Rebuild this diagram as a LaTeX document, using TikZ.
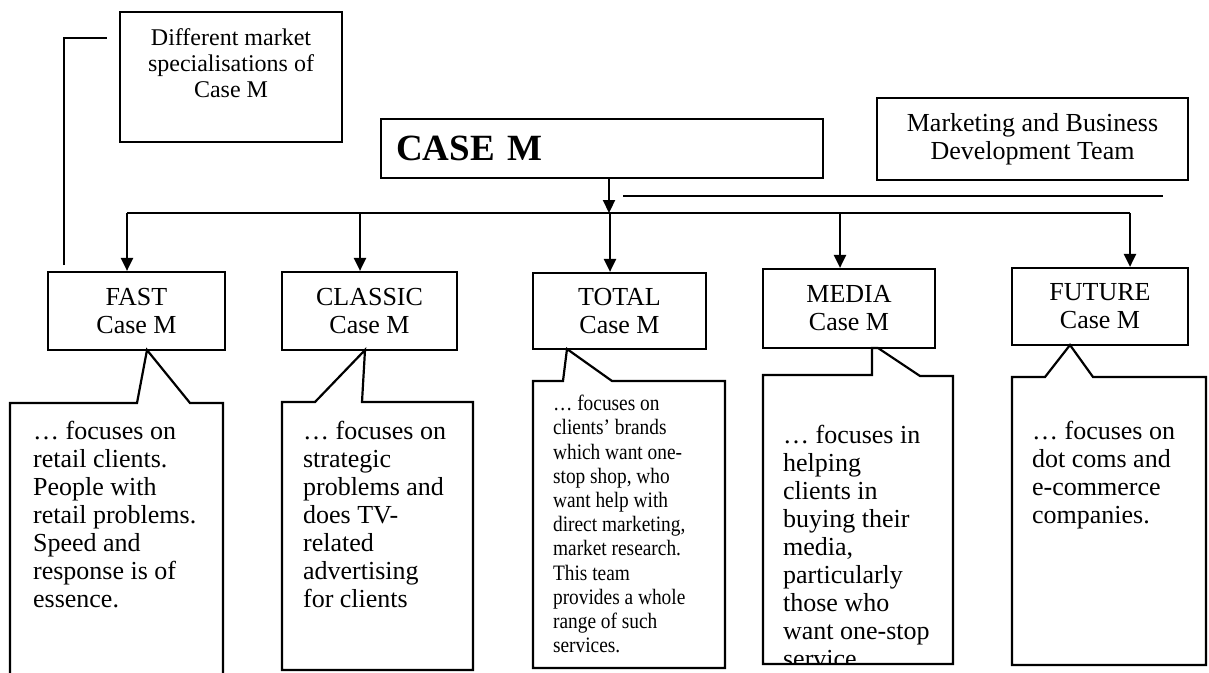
\documentclass[tikz,border=0pt]{standalone}
\usepackage{fontspec}
\setmainfont{Liberation Serif}
\newfontfamily\condfont[FakeStretch=0.88]{Liberation Serif}
\usetikzlibrary{arrows.meta}
\begin{document}
\begin{tikzpicture}[x=1pt,y=-1pt,line width=2.2pt,
  box/.style={draw,rectangle,inner sep=0pt},
  arr/.style={-{Triangle[length=13pt,width=12pt]}},
  hdr/.style={box,align=center,font=\fontsize{26}{28}\selectfont},
  desc/.style={anchor=north west,align=left,inner sep=0pt,font=\fontsize{26}{28}\selectfont},
  tdesc/.style={anchor=north west,align=left,inner sep=0pt,font=\condfont\fontsize{22}{24.2}\selectfont}]
\useasboundingbox (0,0) rectangle (1209,672);

% top boxes
\node[box,minimum width=222pt,minimum height=130pt,align=center,font=\fontsize{24}{26}\selectfont] (diff) at (231,77) {Different market\\specialisations of\\Case M\\[2pt]\mbox{}};
\node[box,anchor=north west,minimum height=59pt,text width=412pt,inner xsep=15pt,align=left,font=\bfseries\fontsize{37}{40}\selectfont] (casem) at (380,118) {CASE M};
\node[hdr,minimum width=311pt,minimum height=82pt] (mkt) at (1032.5,139) {Marketing and Business\\Development Team};

% left bracket line
\coordinate (l1) at (64,265);
\coordinate (l2) at (107,38);
\draw (l1) -- (l1 |- l2) -- (l2);

% header boxes
\node[hdr,minimum width=177pt,minimum height=78pt] (fast) at (136.5,311) {FAST\\Case M};
\node[hdr,minimum width=175pt,minimum height=78pt] (classic) at (369.5,311) {CLASSIC\\Case M};
\node[hdr,minimum width=173pt,minimum height=76pt] (total) at (619.5,311) {TOTAL\\Case M};
\node[hdr,minimum width=172pt,minimum height=79pt] (media) at (849,308.5) {MEDIA\\Case M};
\node[hdr,minimum width=176pt,minimum height=77pt] (future) at (1100,306.5) {FUTURE\\Case M};

% bus and arrows
\coordinate (t0) at (609,213);
\coordinate (b1) at (127,213);
\coordinate (b2) at (360,213);
\coordinate (b3) at (610,213);
\coordinate (b4) at (840,213);
\coordinate (b5) at (1130,213);
\draw[arr] (casem.south -| t0) -- (t0);
\draw (b1) -- (b5);
\draw[arr] (b1) -- (b1 |- fast.north);
\draw[arr] (b2) -- (b2 |- classic.north);
\draw[arr] (b3) -- (b3 |- total.north);
\draw[arr] (b4) -- (b4 |- media.north);
\draw[arr] (b5) -- (b5 |- future.north);
\coordinate (m1) at (623,196);
\coordinate (m2) at (1163,196);
\draw (m1) -- (m2);

% callouts
\draw (10,673) -- (10,403) -- (137,403) -- (147,350) -- (190,403) -- (223,403) -- (223,673);
\draw (282,670) -- (282,402) -- (315,402) -- (365,350) -- (362,402) -- (473,402) -- (473,670) -- cycle;
\draw (533,668) -- (533,381) -- (563,381) -- (567,349) -- (612,381) -- (725,381) -- (725,668) -- cycle;
\draw (763,664) -- (763,375) -- (872,375) -- (872,348) -- (878,348) -- (920,376) -- (953,376) -- (953,664) -- cycle;
\draw (1012,665) -- (1012,377) -- (1045,377) -- (1070,345) -- (1093,377) -- (1206,377) -- (1206,665) -- cycle;

% descriptions
\node[desc] (fastd) at (32,420) {… focuses on\\retail clients.\\People with\\retail problems.\\Speed and\\response is of\\essence.};
\node[desc] (classicd) at (302,420) {… focuses on\\strategic\\problems and\\does TV-\\related\\advertising\\for clients};
\node[tdesc] (totald) at (552,394) {… focuses on\\clients’ brands\\which want one-\\stop shop, who\\want help with\\direct marketing,\\market research.\\This team\\provides a whole\\range of such\\services.};
\begin{scope}
\clip (763,376) rectangle (953,662);
\node[desc] (mediad) at (782,424) {… focuses in\\helping\\clients in\\buying their\\media,\\particularly\\those who\\want one-stop\\service};
\end{scope}
\node[desc] (futured) at (1031,420) {… focuses on\\dot coms and\\e-commerce\\companies.};
\end{tikzpicture}
\end{document}
